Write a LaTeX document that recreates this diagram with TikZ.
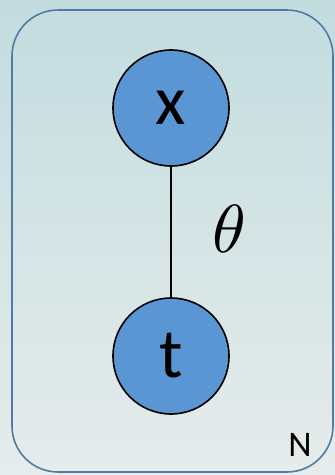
\documentclass[tikz,border=0pt]{standalone}
\usepackage{fontspec}
\setsansfont{Carlito}
\usepackage{unicode-math}
\setmathfont{Latin Modern Math}
\definecolor{bgtop}{HTML}{C3DCDF}
\definecolor{bgbot}{HTML}{E6ECEB}
\definecolor{nodefill}{HTML}{5A96D3}
\definecolor{platecol}{HTML}{4D7DA6}
\tikzset{
  varnode/.style={circle, draw=black, line width=1.6pt, fill=nodefill, minimum size=116pt, inner sep=0pt, font=\sffamily\fontsize{70}{70}\selectfont},
  plate/.style={draw=platecol, line width=1.6pt, rounded corners=46pt},
  edge/.style={draw=black, line width=1.5pt}
}
\begin{document}
\begin{tikzpicture}[x=1pt,y=-1pt]
\shade[top color=bgtop, bottom color=bgbot] (0,0) rectangle (335,475);
\useasboundingbox (0,0) rectangle (335,475);
\draw[plate] (12,10) rectangle (333,472);
\node[varnode] (x) at (171,108) {x};
\node[varnode] (t) at (171,356) {t};
\draw[edge] (x) -- (t);
\node (theta) at (229,229) {\fontsize{68}{68}\selectfont$\theta$};
\node[font=\sffamily\fontsize{36}{36}\selectfont] (N) at (300,445) {N};
\end{tikzpicture}
\end{document}
